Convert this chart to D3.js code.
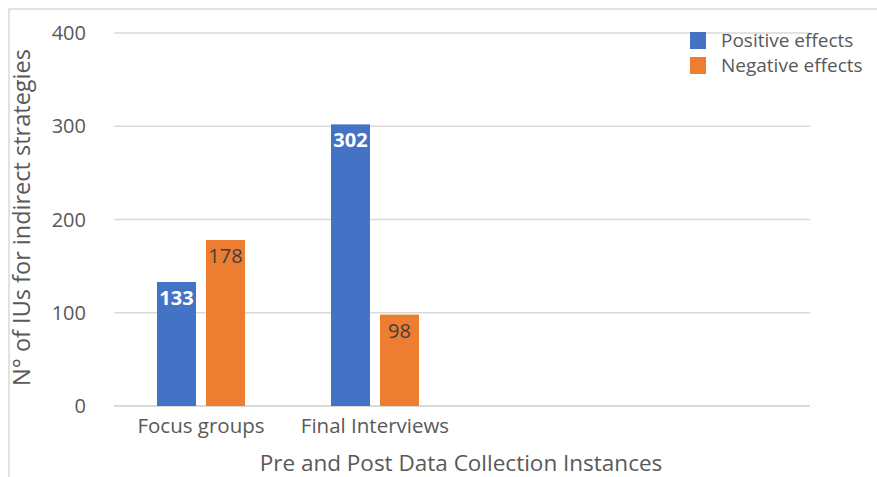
<!DOCTYPE html>
<html>
<head>
<meta charset="utf-8">
<script src="https://cdn.jsdelivr.net/npm/d3@7"></script>
<style>
  html, body { margin: 0; padding: 0; background: #fff; }
  svg { display: block; font-family: "Open Sans", sans-serif; }
</style>
</head>
<body>
<svg id="chart" width="877" height="477"></svg>
<script>
// Categories along the x axis (the last two slots are left empty)
const categories = ["Focus groups", "Final Interviews", "", " "];
const seriesNames = ["Positive effects", "Negative effects"];
const positiveValues = [133, 302];
const negativeValues = [178, 98];
const yTicks = [0, 100, 200, 300, 400];
const colors = ["#4472C4", "#ED7D31"];

const svg = d3.select("#chart");
const W = 877, H = 477;
const plot = { left: 114, right: 810, top: 33, bottom: 406 };
const textColor = "#595959";

// chart frame
svg.append("path")
  .attr("d", `M9,${H} V9 H${W}`)
  .attr("fill", "none").attr("stroke", "#D9D9D9").attr("stroke-width", 1.5);

const x = d3.scaleBand().domain(categories).range([plot.left, plot.right]);
const y = d3.scaleLinear().domain([0, 400]).range([plot.bottom, plot.top]);

const barW = 39, barGap = 10;

// gridlines
svg.append("g").selectAll("line").data(yTicks).join("line")
  .attr("x1", plot.left).attr("x2", plot.right)
  .attr("y1", d => y(d)).attr("y2", d => y(d))
  .attr("stroke", "#D9D9D9").attr("stroke-width", d => d === 0 ? 2 : 1.5);

// y tick labels
svg.append("g").selectAll("text").data(yTicks).join("text")
  .attr("x", 86).attr("y", d => y(d)).attr("dy", "0.35em")
  .attr("text-anchor", "end").attr("fill", textColor).attr("font-size", 20)
  .text(d => d);

// x category labels
svg.append("g").selectAll("text").data(categories.slice(0, 2)).join("text")
  .attr("x", d => x(d) + x.bandwidth() / 2).attr("y", 433)
  .attr("text-anchor", "middle").attr("fill", textColor).attr("font-size", 20.5)
  .text(d => d);

const rows = [];
[positiveValues, negativeValues].forEach((vals, s) => {
  vals.forEach((v, i) => rows.push({ cat: categories[i], s, v }));
});
const barX = d => x(d.cat) + x.bandwidth() / 2 + (d.s === 0 ? -barGap / 2 - barW : barGap / 2);

// bars
svg.append("g").selectAll("rect").data(rows).join("rect")
  .attr("x", barX).attr("width", barW)
  .attr("y", d => y(d.v)).attr("height", d => y(0) - y(d.v))
  .attr("fill", d => colors[d.s]);

// value labels inside the top of each bar
svg.append("g").selectAll("text").data(rows).join("text")
  .attr("x", d => barX(d) + barW / 2).attr("y", d => y(d.v) + 16).attr("dy", "0.35em")
  .attr("text-anchor", "middle").attr("font-size", 20)
  .attr("font-weight", d => d.s === 0 ? "bold" : "normal")
  .attr("fill", d => d.s === 0 ? "#FFFFFF" : "#404040")
  .text(d => d.v);

// axis titles
svg.append("text")
  .attr("transform", `translate(22,${(plot.top + plot.bottom) / 2 - 2}) rotate(-90)`)
  .attr("dy", "0.35em").attr("text-anchor", "middle")
  .attr("fill", textColor).attr("font-size", 23.5)
  .text("N° of IUs for indirect strategies");
svg.append("text")
  .attr("x", 461).attr("y", 471).attr("text-anchor", "middle")
  .attr("fill", textColor).attr("font-size", 22.5)
  .text("Pre and Post Data Collection Instances");

// legend
const legend = svg.append("g").selectAll("g").data(seriesNames).join("g")
  .attr("transform", (d, i) => `translate(690,${32 + i * 25})`);
legend.append("rect").attr("width", 16).attr("height", 17).attr("fill", (d, i) => colors[i]);
legend.append("text").attr("x", 31).attr("y", 15)
  .attr("fill", textColor).attr("font-size", 19).text(d => d);
</script>
</body>
</html>
